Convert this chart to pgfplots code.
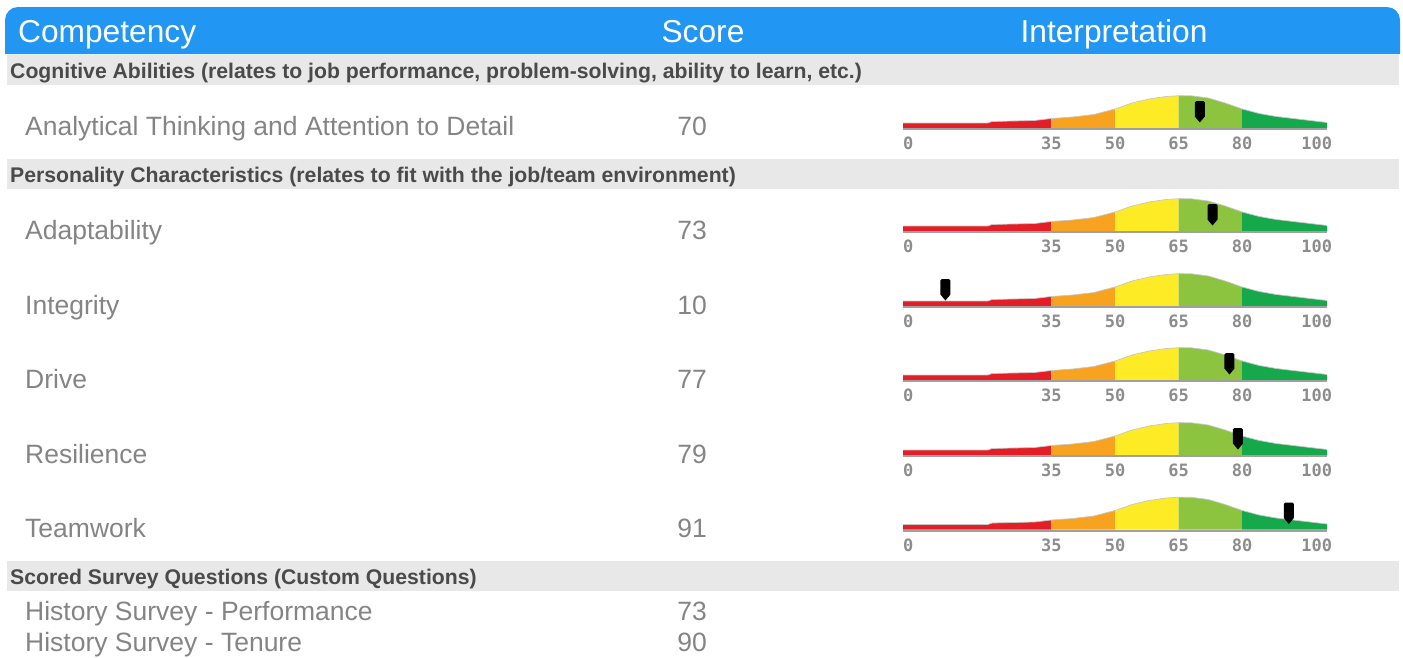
\documentclass[border=0pt]{standalone}
\usepackage{fontspec}
\setmainfont{Liberation Sans}
\newfontfamily\gfont{DejaVu Sans Mono}
\usepackage{pgfplots}
\usepackage{pgfplotstable}
\pgfplotsset{compat=1.18}

\definecolor{hblue}{RGB}{33,150,243}
\definecolor{band}{RGB}{232,232,232}
\definecolor{sectxt}{RGB}{74,74,74}
\definecolor{rowtxt}{RGB}{132,132,132}
\definecolor{gred}{RGB}{228,30,38}
\definecolor{gorange}{RGB}{247,163,32}
\definecolor{gyellow}{RGB}{253,235,37}
\definecolor{glgreen}{RGB}{140,196,63}
\definecolor{ggreen}{RGB}{22,169,75}
\definecolor{glabel}{RGB}{140,140,140}
\definecolor{gbase}{RGB}{160,160,160}

% bell-shaped gauge profile: x = score scale, h = height (px)
\pgfplotstableread{
x h
0 5
20 5
21 6.5
31 7.5
35 9.5
40 11
45 13.5
50 19
54 25
58 29
62 31.5
65 32.3
68 32.2
72 30
76 25
80 19
84 14.5
88 11.5
92 9.5
96 7.5
100 5.5
}\curve

\pgfdeclareplotmark{gpin}{%
  \pgfpathmoveto{\pgfqpoint{0pt}{0pt}}%
  \pgfpathlineto{\pgfqpoint{5pt}{6pt}}%
  \pgfpathlineto{\pgfqpoint{5pt}{20pt}}%
  \pgfpathlineto{\pgfqpoint{3.5pt}{21.5pt}}%
  \pgfpathlineto{\pgfqpoint{-3.5pt}{21.5pt}}%
  \pgfpathlineto{\pgfqpoint{-5pt}{20pt}}%
  \pgfpathlineto{\pgfqpoint{-5pt}{6pt}}%
  \pgfpathclose
  \pgfusepathqfill}

\pgfplotsset{gauge/.style={
  x=4.24pt, y=1pt, xmin=0, xmax=100, ymin=-3, ymax=30,
  anchor=origin, clip=false,
  axis line style={draw=none}, major tick length=0pt,
  ytick=\empty, xtick={0,35,50,65,80,100},
  xticklabels={\makebox[0pt][l]{0},35,50,65,80,\makebox[0pt][r]{100\hspace{-5pt}}},
  xticklabel style={font=\gfont\bfseries\fontsize{17}{17}\selectfont,
    text=glabel, anchor=center, yshift=-12.5pt, inner sep=0pt},
}}

\newcommand{\gauge}[2]{%
\begin{axis}[gauge, at={(903pt,-#1pt)}]
\addplot[draw=none, fill=gred, restrict x to domain=0:35] table {\curve} \closedcycle;
\addplot[draw=none, fill=gorange, restrict x to domain=35:50] table {\curve} \closedcycle;
\addplot[draw=none, fill=gyellow, restrict x to domain=50:65] table {\curve} \closedcycle;
\addplot[draw=none, fill=glgreen, restrict x to domain=65:80] table {\curve} \closedcycle;
\addplot[draw=none, fill=ggreen, restrict x to domain=80:100] table {\curve} \closedcycle;
\addplot[draw=black!22, line width=0.7pt] table {\curve};
\addplot[draw=gbase, line width=2pt] coordinates {(0,-1) (100,-1)};
\addplot[only marks, mark=gpin, color=black] coordinates {(#2,5.5)};
\end{axis}}

\newcommand{\rowfont}{\fontsize{26.5}{30}\selectfont}
\newcommand{\secfont}{\bfseries\fontsize{21.2}{24}\selectfont}

\begin{document}
\begin{tikzpicture}
\useasboundingbox (0pt,0pt) rectangle (1403pt,-657pt);
% header
\fill[hblue] (5pt,-54pt) [rounded corners=13pt] -- (5pt,-7pt) -- (1400pt,-7pt) [sharp corners] -- (1400pt,-54pt) -- cycle;
\begin{scope}[every node/.style={inner sep=0pt, text=white, font=\fontsize{31.7}{34}\selectfont}]
\node[anchor=base west] at (18pt,-42pt) {Competency};
\node[anchor=base] at (703pt,-42pt) {Score};
\node[anchor=base] at (1114pt,-42pt) {Interpretation};
\end{scope}
% section bands
\fill[band] (7pt,-55pt) rectangle (1399pt,-85pt);
\fill[band] (7pt,-159pt) rectangle (1399pt,-189pt);
\fill[band] (7pt,-561pt) rectangle (1399pt,-591pt);
\begin{scope}[every node/.style={inner sep=0pt, text=sectxt, font=\secfont, anchor=base west}]
\node at (10pt,-78pt) {Cognitive Abilities (relates to job performance, problem-solving, ability to learn, etc.)};
\node at (10pt,-182pt) {Personality Characteristics (relates to fit with the job/team environment)};
\node at (10pt,-584pt) {Scored Survey Questions (Custom Questions)};
\end{scope}
% rows
\begin{scope}[every node/.style={inner sep=0pt, text=rowtxt, font=\rowfont}]
\node[anchor=base west] at (25pt,-135.5pt) {Analytical Thinking and Attention to Detail};
\node[anchor=base east] at (707pt,-135.5pt) {70};
\node[anchor=base west] at (25pt,-239pt) {Adaptability};
\node[anchor=base east] at (707pt,-239pt) {73};
\node[anchor=base west] at (25pt,-314pt) {Integrity};
\node[anchor=base east] at (707pt,-314pt) {10};
\node[anchor=base west] at (25pt,-388.5pt) {Drive};
\node[anchor=base east] at (707pt,-388.5pt) {77};
\node[anchor=base west] at (25pt,-463pt) {Resilience};
\node[anchor=base east] at (707pt,-463pt) {79};
\node[anchor=base west] at (25pt,-537.5pt) {Teamwork};
\node[anchor=base east] at (707pt,-537.5pt) {91};
\node[anchor=base west] at (25pt,-620.5pt) {History Survey - Performance};
\node[anchor=base east] at (707pt,-620.5pt) {73};
\node[anchor=base west] at (25pt,-651.5pt) {History Survey - Tenure};
\node[anchor=base east] at (707pt,-651.5pt) {90};
\end{scope}
% gauges
\gauge{128}{70}
\gauge{231}{73}
\gauge{306}{10}
\gauge{380}{77}
\gauge{455}{79}
\gauge{529.5}{91}
\end{tikzpicture}
\end{document}
